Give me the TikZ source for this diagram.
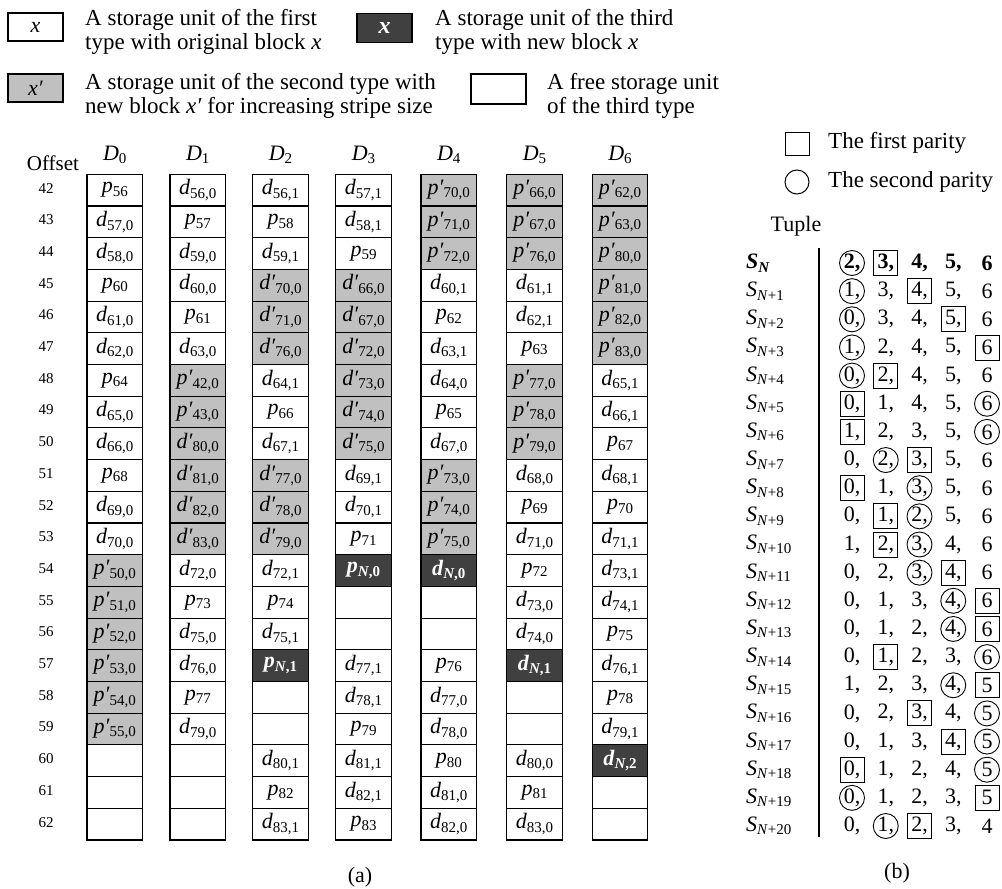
\documentclass[tikz,border=0pt]{standalone}
\usepackage{fontspec}
\setmainfont{Liberation Serif}
\definecolor{cgray}{HTML}{C0C0C0}
\definecolor{cdark}{HTML}{404040}
\newcommand\lowsub[1]{\raisebox{-3.5pt}{\fontsize{15}{15}\selectfont #1}}
\newcommand\celln[2]{\textit{#1}\lowsub{#2}}
\newcommand\cellg[2]{\textit{#1′}\lowsub{#2}}
\newcommand\cellk[2]{\textbf{\textit{#1}}\lowsub{\textbf{\textit{N},#2}}}
\newcommand\celle[2]{}
\newcommand\snl[1]{\textit{S}\lowsub{\textit{N}+#1}}
\tikzset{
  cellbox/.style={draw=black,line width=1.1pt,minimum width=55.5pt,minimum height=31.7pt,inner sep=0pt,font=\fontsize{22}{24}\selectfont},
  tyn/.style={fill=white}, tyg/.style={fill=cgray}, tyk/.style={fill=cdark,text=white}, tye/.style={fill=white},
  legtext/.style={anchor=west,align=left,inner sep=0pt,font=\fontsize{23}{24}\selectfont},
  offs/.style={font=\fontsize{15}{15}\selectfont,inner sep=0pt},
  hdr/.style={font=\fontsize{22}{24}\selectfont,inner sep=0pt},
  tfont/.style={font=\fontsize{22}{24}\selectfont,inner sep=0pt},
  tvp/.style={tfont},
  tvc/.style={tfont,draw,circle,line width=0.9pt,minimum size=25pt},
  tvb/.style={tfont,draw,rectangle,line width=0.9pt,minimum width=24pt,minimum height=25pt},
}
\newcommand\drawcol[3]{%
  \node[hdr] (h#1) at (#2,155) {\textit{D}\lowsub{#1}};
  \foreach \ty/\lt/\su [count=\r from 0] in {#3}{%
    \node[cellbox,ty\ty] (c#1r\r) at (#2,190.15+31.7*\r) {\csname cell\ty\endcsname{\lt}{\su}};}}
\newcommand\trow[4]{%
  \node[anchor=west,tfont] (lab#1) at (746,263+28.15*#1) {#2};
  \foreach \ty/\v [count=\k] in {#4}{%
    \node[tv\ty] (t#1k\k) at ({852+33.75*(\k-1)},{263+28.15*#1}) {#3\v\ifnum\k<5,\fi};}}
\begin{document}
\begin{tikzpicture}[x=1pt,y=-1pt]
\useasboundingbox (0,0) rectangle (1002,889);
% legend
\node[cellbox,minimum width=55pt,minimum height=28pt] (l1) at (35.5,27) {\textit{x}};
\node[legtext] (l1t) at (85,31.5) {A storage unit of the first\\type with original block \textit{x}};
\node[cellbox,tyk,minimum width=55pt,minimum height=29pt,font=\fontsize{24}{24}\selectfont] (l2) at (384.5,28) {\textbf{\textit{x}}};
\node[legtext] (l2t) at (435,31.5) {A storage unit of the third\\type with new block \textit{x}};
\node[cellbox,tyg,minimum width=55pt,minimum height=28pt] (l3) at (35.5,88) {\textit{x′}};
\node[legtext] (l3t) at (85,95.5) {A storage unit of the second type with\\new block \textit{x′} for increasing stripe size};
\node[cellbox,minimum width=55pt,minimum height=30pt] (l4) at (498.5,89) {};
\node[legtext] (l4t) at (547,95.5) {A free storage unit\\of the third type};
% offsets
\node[font=\fontsize{21}{21}\selectfont,inner sep=0pt] (offt) at (53,163) {Offset};
\foreach \r in {0,...,20}{%
  \pgfmathtruncatemacro\ov{42+\r}
  \node[offs] (o\r) at (46,188.15+31.7*\r) {\ov};}
% columns
\drawcol{0}{114.75}{n/p/56, n/d/{57,0}, n/d/{58,0}, n/p/60, n/d/{61,0}, n/d/{62,0}, n/p/64, n/d/{65,0}, n/d/{66,0}, n/p/68, n/d/{69,0}, n/d/{70,0}, g/p/{50,0}, g/p/{51,0}, g/p/{52,0}, g/p/{53,0}, g/p/{54,0}, g/p/{55,0}, e/x/x, e/x/x, e/x/x}
\drawcol{1}{197.75}{n/d/{56,0}, n/p/57, n/d/{59,0}, n/d/{60,0}, n/p/61, n/d/{63,0}, g/p/{42,0}, g/p/{43,0}, g/d/{80,0}, g/d/{81,0}, g/d/{82,0}, g/d/{83,0}, n/d/{72,0}, n/p/73, n/d/{75,0}, n/d/{76,0}, n/p/77, n/d/{79,0}, e/x/x, e/x/x, e/x/x}
\drawcol{2}{280.5}{n/d/{56,1}, n/p/58, n/d/{59,1}, g/d/{70,0}, g/d/{71,0}, g/d/{76,0}, n/d/{64,1}, n/p/66, n/d/{67,1}, g/d/{77,0}, g/d/{78,0}, g/d/{79,0}, n/d/{72,1}, n/p/74, n/d/{75,1}, k/p/1, e/x/x, e/x/x, n/d/{80,1}, n/p/82, n/d/{83,1}}
\drawcol{3}{363.5}{n/d/{57,1}, n/d/{58,1}, n/p/59, g/d/{66,0}, g/d/{67,0}, g/d/{72,0}, g/d/{73,0}, g/d/{74,0}, g/d/{75,0}, n/d/{69,1}, n/d/{70,1}, n/p/71, k/p/0, e/x/x, e/x/x, n/d/{77,1}, n/d/{78,1}, n/p/79, n/d/{81,1}, n/d/{82,1}, n/p/83}
\drawcol{4}{448.75}{g/p/{70,0}, g/p/{71,0}, g/p/{72,0}, n/d/{60,1}, n/p/62, n/d/{63,1}, n/d/{64,0}, n/p/65, n/d/{67,0}, g/p/{73,0}, g/p/{74,0}, g/p/{75,0}, k/d/0, e/x/x, e/x/x, n/p/76, n/d/{77,0}, n/d/{78,0}, n/p/80, n/d/{81,0}, n/d/{82,0}}
\drawcol{5}{534.5}{g/p/{66,0}, g/p/{67,0}, g/p/{76,0}, n/d/{61,1}, n/d/{62,1}, n/p/63, g/p/{77,0}, g/p/{78,0}, g/p/{79,0}, n/d/{68,0}, n/p/69, n/d/{71,0}, n/p/72, n/d/{73,0}, n/d/{74,0}, k/d/1, e/x/x, e/x/x, n/d/{80,0}, n/p/81, n/d/{83,0}}
\drawcol{6}{620}{g/p/{62,0}, g/p/{63,0}, g/p/{80,0}, g/p/{81,0}, g/p/{82,0}, g/p/{83,0}, n/d/{65,1}, n/d/{66,1}, n/p/67, n/d/{68,1}, n/p/70, n/d/{71,1}, n/d/{73,1}, n/d/{74,1}, n/p/75, n/d/{76,1}, n/p/78, n/d/{79,1}, k/d/2, e/x/x, e/x/x}
\node[hdr] (capa) at (360,877) {(a)};
% right panel legend
\node[draw,line width=1pt,minimum width=24pt,minimum height=23pt,inner sep=0pt] (sq) at (797,143.5) {};
\node[legtext] (sqt) at (828,143) {The first parity};
\node[draw,circle,line width=1pt,minimum size=24pt,inner sep=0pt] (ci) at (797,182) {};
\node[legtext] (cit) at (828,182) {The second parity};
\node[tfont] (tup) at (796,226) {Tuple};
\coordinate (vt) at (819,248);
\coordinate (vb) at (819,837);
\draw[line width=1.1pt] (vt) -- (vb);
\trow{0}{\textbf{\textit{S}}\lowsub{\textbf{\textit{N}}}}{\bfseries}{c/2, b/3, p/4, p/5, p/6}
\trow{1}{\snl{1}}{}{c/1, p/3, b/4, p/5, p/6}
\trow{2}{\snl{2}}{}{c/0, p/3, p/4, b/5, p/6}
\trow{3}{\snl{3}}{}{c/1, p/2, p/4, p/5, b/6}
\trow{4}{\snl{4}}{}{c/0, b/2, p/4, p/5, p/6}
\trow{5}{\snl{5}}{}{b/0, p/1, p/4, p/5, c/6}
\trow{6}{\snl{6}}{}{b/1, p/2, p/3, p/5, c/6}
\trow{7}{\snl{7}}{}{p/0, c/2, b/3, p/5, p/6}
\trow{8}{\snl{8}}{}{b/0, p/1, c/3, p/5, p/6}
\trow{9}{\snl{9}}{}{p/0, b/1, c/2, p/5, p/6}
\trow{10}{\snl{10}}{}{p/1, b/2, c/3, p/4, p/6}
\trow{11}{\snl{11}}{}{p/0, p/2, c/3, b/4, p/6}
\trow{12}{\snl{12}}{}{p/0, p/1, p/3, c/4, b/6}
\trow{13}{\snl{13}}{}{p/0, p/1, p/2, c/4, b/6}
\trow{14}{\snl{14}}{}{p/0, b/1, p/2, p/3, c/6}
\trow{15}{\snl{15}}{}{p/1, p/2, p/3, c/4, b/5}
\trow{16}{\snl{16}}{}{p/0, p/2, b/3, p/4, c/5}
\trow{17}{\snl{17}}{}{p/0, p/1, p/3, b/4, c/5}
\trow{18}{\snl{18}}{}{b/0, p/1, p/2, p/4, c/5}
\trow{19}{\snl{19}}{}{c/0, p/1, p/2, p/3, b/5}
\trow{20}{\snl{20}}{}{p/0, c/1, b/2, p/3, p/4}
\node[hdr] (capb) at (897,873) {(b)};
\end{tikzpicture}
\end{document}
